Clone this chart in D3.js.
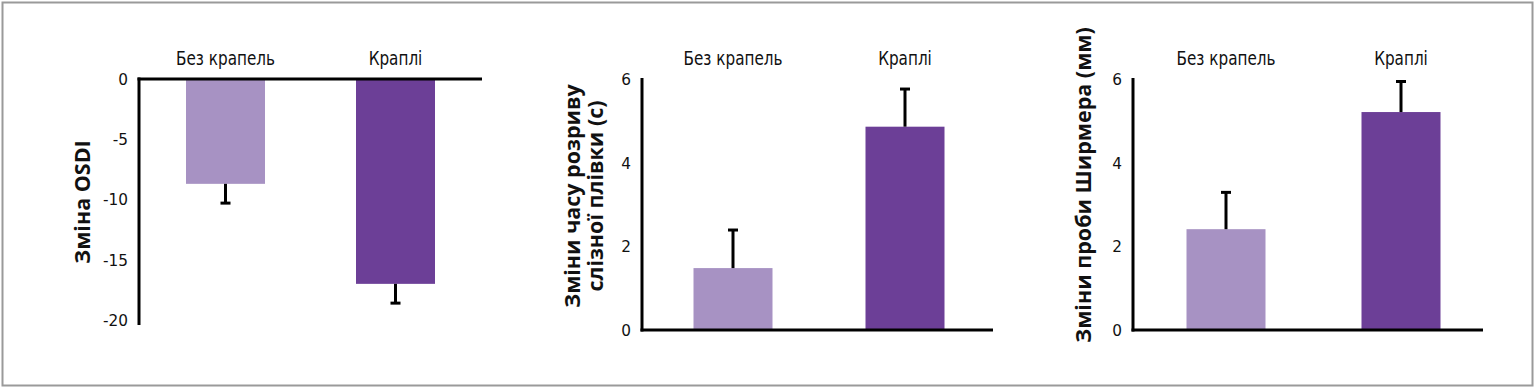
<!DOCTYPE html>
<html>
<head>
<meta charset="utf-8">
<script src="https://cdn.jsdelivr.net/npm/d3@7"></script>
<style>
  body { margin: 0; background: #fff; }
  .tick-label { font-family: "DejaVu Sans", sans-serif; font-size: 16.5px; fill: #111; }
  .cat-label { font-family: "DejaVu Sans", sans-serif; font-size: 19px; fill: #111; }
  .y-title { font-family: "Open Sans", sans-serif; font-weight: 700; font-size: 21.5px; fill: #111; }
</style>
</head>
<body>
<svg id="chart" width="1535" height="388"></svg>
<script>
var categories = ["Без крапель", "Краплі"];

// OSDI change (negative), tear break-up time (s), Schirmer (mm)
var osdiValues = [-8.7, -17.0];
var osdiErrors = [1.6, 1.6];
var tbutValues = [1.48, 4.86];
var tbutErrors = [0.91, 0.90];
var schirmerValues = [2.41, 5.21];
var schirmerErrors = [0.88, 0.73];

var osdiTicks = [0, -5, -10, -15, -20];
var tbutTicks = [0, 2, 4, 6];
var schirmerTicks = [0, 2, 4, 6];

var colors = ["#a792c3", "#6c3f97"];

var panels = [
  {values: osdiValues, errors: osdiErrors, ticks: osdiTicks, domain: [0, -20],
   axisX: 139, axisEnd: 482, yTop: 79, yBottom: 320, axisLineEnd: 325,
   centers: [225.5, 395.5], title: ["Зміна OSDI"], titleX: [82], titleY: 202, negative: true},
  {values: tbutValues, errors: tbutErrors, ticks: tbutTicks, domain: [0, 6],
   axisX: 642, axisEnd: 993, yTop: 79, yBottom: 330, axisLineEnd: 78,
   centers: [733, 905], title: ["Зміни часу розриву", "слізної плівки (с)"], titleX: [572, 595], titleY: 196, negative: false},
  {values: schirmerValues, errors: schirmerErrors, ticks: schirmerTicks, domain: [0, 6],
   axisX: 1133, axisEnd: 1483, yTop: 79, yBottom: 330, axisLineEnd: 78,
   centers: [1226, 1401], title: ["Зміни проби Ширмера (мм)"], titleX: [1083], titleY: 185, negative: false}
];

var barWidth = 79;
var capWidth = 10;

var svg = d3.select("#chart");

// the original uses a narrow typeface; squeeze a regular one to the same widths
function narrowFactor(cls, sample, targetWidth)
{
  var t = svg.append("text").attr("class", cls).text(sample);
  var w = t.node().getComputedTextLength();
  t.remove();
  return targetWidth / w;
}
var tickSqueeze = narrowFactor("tick-label", "-10", 25);
var catSqueeze = narrowFactor("cat-label", "Без крапель", 99);

// outer frame
svg.append("rect")
   .attr("x", 2.5).attr("y", 2.5)
   .attr("width", 1530).attr("height", 383)
   .attr("fill", "none")
   .attr("stroke", "#9a9a9a")
   .attr("stroke-width", 2);

panels.forEach(function(p)
{
  var g = svg.append("g");

  var yScale = d3.scaleLinear()
                 .domain(p.domain)
                 .range([p.negative ? p.yTop : p.yBottom, p.negative ? p.yBottom : p.yTop]);

  var xScale = d3.scalePoint()
                 .domain(categories)
                 .range(p.centers);

  var rows = categories.map(function(c, i) {
    return {cat: c, value: p.values[i], err: p.errors[i], color: colors[i]};
  });

  var zeroY = yScale(0);

  // bars
  g.selectAll(".bar")
   .data(rows)
   .enter().append("rect")
   .attr("class", "bar")
   .attr("x", function(d) { return xScale(d.cat) - barWidth / 2; })
   .attr("y", function(d) { return Math.min(yScale(d.value), zeroY); })
   .attr("width", barWidth)
   .attr("height", function(d) { return Math.abs(yScale(d.value) - zeroY); })
   .attr("fill", function(d) { return d.color; });

  // error bars (one-sided, away from zero)
  var errEnd = function(d) { return d.value < 0 ? d.value - d.err : d.value + d.err; };

  g.selectAll(".err")
   .data(rows)
   .enter().append("line")
   .attr("x1", function(d) { return xScale(d.cat); })
   .attr("x2", function(d) { return xScale(d.cat); })
   .attr("y1", function(d) { return yScale(d.value); })
   .attr("y2", function(d) { return yScale(errEnd(d)); })
   .attr("stroke", "#000")
   .attr("stroke-width", 3);

  g.selectAll(".cap")
   .data(rows)
   .enter().append("line")
   .attr("x1", function(d) { return xScale(d.cat) - capWidth / 2; })
   .attr("x2", function(d) { return xScale(d.cat) + capWidth / 2; })
   .attr("y1", function(d) { return yScale(errEnd(d)); })
   .attr("y2", function(d) { return yScale(errEnd(d)); })
   .attr("stroke", "#000")
   .attr("stroke-width", 3);

  // axes lines
  g.append("line")
   .attr("x1", p.axisX).attr("x2", p.axisX)
   .attr("y1", p.negative ? zeroY - 1.5 : p.axisLineEnd)
   .attr("y2", p.negative ? p.axisLineEnd : zeroY + 1.5)
   .attr("stroke", "#000").attr("stroke-width", 3);

  g.append("line")
   .attr("x1", p.axisX - 1.5).attr("x2", p.axisEnd)
   .attr("y1", zeroY).attr("y2", zeroY)
   .attr("stroke", "#000").attr("stroke-width", 3);

  // tick labels
  g.selectAll(".tick-label")
   .data(p.ticks)
   .enter().append("text")
   .attr("class", "tick-label")
   .attr("transform", function(d) {
     return "translate(" + (p.axisX - 11) + "," + yScale(d) + ") scale(" + tickSqueeze + ",1)";
   })
   .attr("dy", "0.36em")
   .attr("text-anchor", "end")
   .text(function(d) { return d; });

  // category labels
  g.selectAll(".cat-label")
   .data(categories)
   .enter().append("text")
   .attr("class", "cat-label")
   .attr("transform", function(d) {
     return "translate(" + xScale(d) + ",65) scale(" + catSqueeze + ",1)";
   })
   .attr("text-anchor", "middle")
   .text(function(d) { return d; });

  // y title
  p.title.forEach(function(t, i) {
    g.append("text")
     .attr("class", "y-title")
     .attr("transform", "translate(" + p.titleX[i] + "," + p.titleY + ") rotate(-90)")
     .attr("text-anchor", "middle")
     .attr("dy", "0.35em")
     .text(t);
  });
});
</script>
</body>
</html>
